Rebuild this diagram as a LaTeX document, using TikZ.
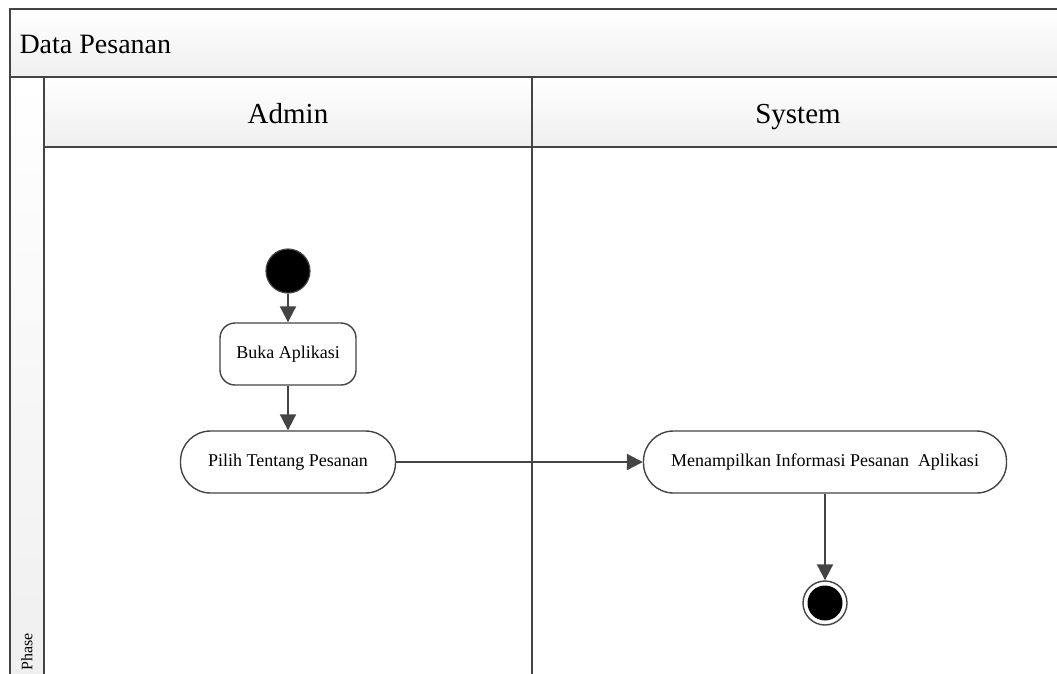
\documentclass[tikz,border=0pt]{standalone}
\usepackage{fontspec}
\setmainfont{Liberation Serif}
\usetikzlibrary{positioning,arrows.meta}
\definecolor{lane}{HTML}{444444}
\definecolor{hdr}{HTML}{EFEFEF}
\begin{document}
\begin{tikzpicture}[x=1pt,y=-1pt,
  act/.style={draw=lane,line width=1.4pt,rounded corners=15pt,fill=white,minimum height=62pt,font=\fontsize{18}{20}\selectfont},
  flow/.style={draw=lane,line width=2pt,-{Triangle[length=16pt,width=16pt]}},
  hd/.style={draw=lane,line width=2pt,top color=white,bottom color=hdr}]
 \useasboundingbox (0,0) rectangle (1057,673);
 % pool and lanes
 \draw[hd](10,9) rectangle (1070,77);
 \draw[hd](10,77) rectangle (44,690);
 \draw[hd](44,77) rectangle (532,147);
 \draw[hd](532,77) rectangle (1070,147);
 \draw[draw=lane,line width=1.6pt](532,147)--(532,690);
 \node[anchor=base west,font=\fontsize{28}{32}\selectfont] (pool) at (16,53) {Data Pesanan};
 \node[anchor=base,font=\fontsize{29}{32}\selectfont] (admin) at (288,123) {Admin};
 \node[anchor=base,font=\fontsize{29}{32}\selectfont] (sys) at (798,123) {System};
 \node[rotate=90,anchor=west,font=\fontsize{16}{18}\selectfont] (phase) at (27,674) {Phase};
 % activities
 \node[circle,fill=black,draw=lane,line width=1.2pt,minimum size=44pt,inner sep=0pt] (start) at (288,271) {};
 \node[act,minimum width=136pt] (buka) at (288,354) {Buka Aplikasi};
 \node[act,minimum width=215pt,rounded corners=30pt] (pilih) at (288,462) {Pilih Tentang Pesanan};
 \node[act,minimum width=363pt,rounded corners=30pt] (info) at (825,462) {Menampilkan Informasi Pesanan\ \ Aplikasi};
 \node[circle,draw=lane,line width=1.4pt,fill=white,minimum size=44pt,inner sep=0pt] (end) at (825,603) {};
 \node[circle,fill=black,minimum size=35pt,inner sep=0pt] (endin) at (end) {};
 \draw[flow](start)--(buka);
 \draw[flow](buka)--(pilih);
 \draw[flow](pilih)--(info);
 \draw[flow](info)--(end);
\end{tikzpicture}
\end{document}
